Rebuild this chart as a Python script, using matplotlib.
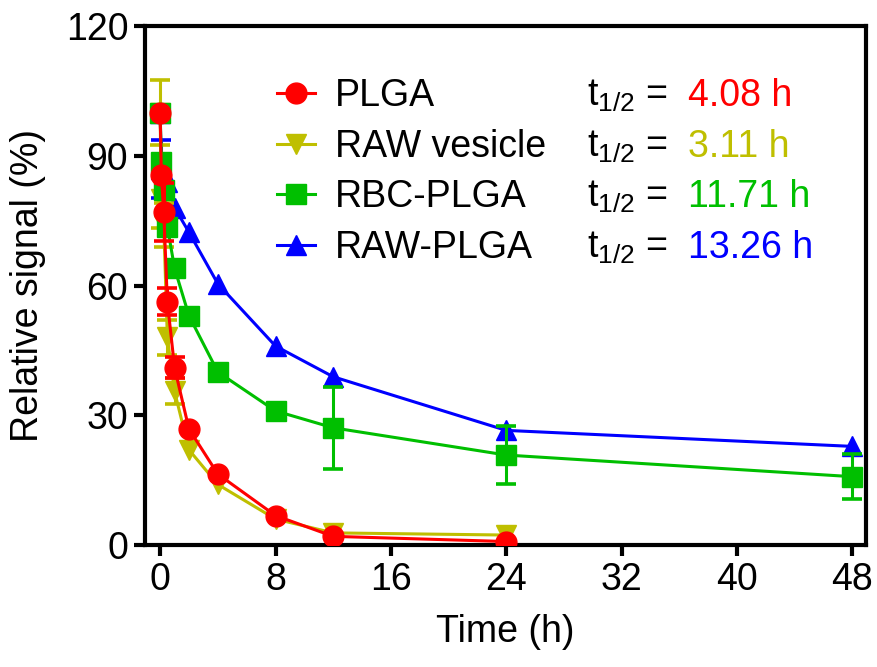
import matplotlib
matplotlib.use("Agg")
import matplotlib.pyplot as plt

NA = float("nan")  # no visible error bar

# ── Data ──
time_short = [0, 0.083, 0.25, 0.5, 1, 2, 4, 8, 12, 24]
time_long = [0, 0.083, 0.25, 0.5, 1, 2, 4, 8, 12, 24, 48]

plga = [100, 85.5, 77, 56.3, 41, 26.8, 16.4, 6.8, 2.0, 0.8]
plga_err = [NA, NA, 6.6, 3.2, 2.4, NA, NA, NA, NA, NA]

raw_vesicle = [100, 80, 74, 48, 35.5, 22, 14, 6, 2.8, 2.3]
raw_vesicle_err = [7.4, 6.6, 5.0, 4.0, 3.0, NA, NA, NA, NA, NA]

rbc_plga = [100, 88.5, 82, 73.6, 64, 53, 40, 31, 27.1, 20.8, 15.8]
rbc_plga_err = [1.5, 1.5, 1.5, 1.5, 1.5, 1.5, 1.5, 1.5, 9.5, 6.7, 5.2]

raw_plga = [100, 87, 86, 84, 78, 72.3, 60.4, 46, 38.9, 26.5, 22.8]
raw_plga_err = [NA, 6.7, NA, NA, NA, NA, NA, NA, NA, NA, NA]

labels = ["PLGA", "RAW vesicle", "RBC-PLGA", "RAW-PLGA"]
half_lives = ["4.08 h", "3.11 h", "11.71 h", "13.26 h"]
colors = ["#FF0000", "#BFBF00", "#00BF00", "#0000FF"]
markers = ["o", "v", "s", "^"]

x_ticks = [0, 8, 16, 24, 32, 40, 48]
y_ticks = [0, 30, 60, 90, 120]

# ── Style ──
plt.rcParams["font.family"] = ["Liberation Sans", "DejaVu Sans"]
plt.rcParams["mathtext.fontset"] = "custom"
plt.rcParams["mathtext.rm"] = "Liberation Sans"
plt.rcParams["mathtext.it"] = "Liberation Sans:italic"
FS = 27

fig = plt.figure(figsize=(8.78, 6.67), dpi=100)
ax = fig.add_axes([145 / 878, 122 / 667, 721 / 878, 519 / 667])

series = [
    (time_short, plga, plga_err, 5),
    (time_short, raw_vesicle, raw_vesicle_err, 3),
    (time_long, rbc_plga, rbc_plga_err, 4),
    (time_long, raw_plga, raw_plga_err, 2),
]

handles = []
for i, (t, y, e, z) in enumerate(series):
    h = ax.errorbar(t, y, yerr=e, color=colors[i], marker=markers[i],
                    markersize=15, markeredgecolor=colors[i], linewidth=2.2,
                    elinewidth=2.2, capsize=7.2, capthick=2.6, zorder=z)
    handles.append(h[0])

ax.set_xlim(-1.05, 48.95)
ax.set_ylim(0, 120)
ax.set_xticks(x_ticks)
ax.set_yticks(y_ticks)

for sp in ax.spines.values():
    sp.set_linewidth(3)
ax.tick_params(axis="both", which="major", direction="out", length=8,
               width=3, labelsize=FS, pad=4, top=False, right=False)

ax.set_xlabel("Time (h)", fontsize=FS, labelpad=12)
ax.set_ylabel("Relative signal (%)", fontsize=FS, labelpad=14)

leg = ax.legend(handles, labels, loc="upper left",
                bbox_to_anchor=(277 / 878, 1 - 78 / 667),
                bbox_transform=fig.transFigure, frameon=False,
                fontsize=FS, handlelength=1.0, handletextpad=0.55,
                labelspacing=0.39, borderpad=0, borderaxespad=0,
                markerscale=1.0)

# half-life annotations aligned to the legend rows
fig.canvas.draw()
renderer = fig.canvas.get_renderer()
for txt, hl, c in zip(leg.get_texts(), half_lives, colors):
    bb = txt.get_window_extent(renderer)
    yc = (bb.y0 + bb.y1) / 2 / fig.bbox.height
    fig.text(587 / 878, yc, r"t$_{\mathregular{1/2}}$ =", fontsize=FS,
             va="center", ha="left", color="black")
    fig.text(688 / 878, yc, hl, fontsize=FS, va="center", ha="left", color=c)

fig.savefig("out.png", dpi=100)
